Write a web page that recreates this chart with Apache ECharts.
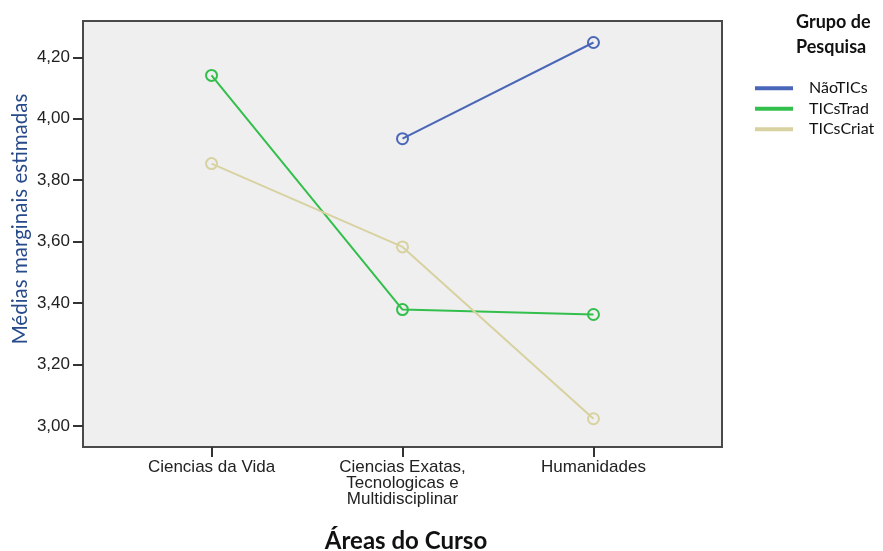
<!DOCTYPE html>
<html>
<head>
<meta charset="utf-8">
<script src="https://cdn.jsdelivr.net/npm/echarts@6/dist/echarts.min.js"></script>
<style>
  html, body { margin: 0; padding: 0; background: #fff; }
  #chart { width: 883px; height: 551px; }
</style>
</head>
<body>
<div id="chart"></div>
<script>
// areas (x categories)
const categories = ['Ciencias da Vida', 'Ciencias Exatas,\nTecnologicas e\nMultidisciplinar', 'Humanidades']
const yTicks = [3.0, 3.2, 3.4, 3.6, 3.8, 4.0, 4.2]

// estimated marginal means per group (null = no value)
const naoTICs = [null, 3.935, 4.248]
const ticsTrad = [4.141, 3.379, 3.363]
const ticsCriat = [3.854, 3.583, 3.024]

const groups = [
  { name: 'NãoTICs', values: naoTICs, color: '#4a66b8' },
  { name: 'TICsTrad', values: ticsTrad, color: '#33bf4c' },
  { name: 'TICsCriat', values: ticsCriat, color: '#d8d2a0' }
]

const chart = echarts.init(document.getElementById('chart'))

const toPoints = vals => vals.map((v, i) => (v == null ? null : [i, v])).filter(p => p)

chart.setOption({
  animation: false,
  textStyle: { fontFamily: 'Liberation Sans' },
  grid: {
    left: 83, right: 161, top: 21, bottom: 104,
    show: true,
    backgroundColor: '#efefef',
    borderColor: '#4a4a4a',
    borderWidth: 2
  },
  legend: {
    orient: 'vertical',
    left: 750,
    top: 73,
    itemWidth: 36,
    itemHeight: 2,
    itemGap: 0,
    icon: 'rect',
    textStyle: { fontFamily: 'Lato', fontSize: 16, color: '#111', lineHeight: 12.5, padding: [0, 0, 8, 12] },
    data: groups.map(g => ({ name: g.name, itemStyle: { color: g.color } }))
  },
  xAxis: {
    type: 'value',
    min: -0.673,
    max: 2.673,
    axisLine: { show: false, onZero: false },
    splitLine: { show: false },
    axisTick: { show: true, length: 10, customValues: [0, 1, 2], lineStyle: { color: '#333', width: 2 } },
    axisLabel: {
      customValues: [0, 1, 2],
      formatter: v => categories[Math.round(v)],
      fontSize: 17,
      lineHeight: 16,
      color: '#222',
      margin: 12
    }
  },
  yAxis: {
    type: 'value',
    min: 2.932,
    max: 4.318,
    axisLine: { show: false, onZero: false },
    splitLine: { show: false },
    axisTick: { show: true, length: 10, customValues: yTicks, lineStyle: { color: '#333', width: 2 } },
    axisLabel: {
      customValues: yTicks,
      formatter: v => v.toFixed(2).replace('.', ','),
      fontSize: 17,
      color: '#222',
      margin: 13
    }
  },
  graphic: [
    {
      type: 'text',
      x: 20, y: 219,
      rotation: Math.PI / 2,
      style: {
        text: 'Médias marginais estimadas',
        fontFamily: 'Lato', fontSize: 20.5, fill: '#264a8a',
        textAlign: 'center', textVerticalAlign: 'middle'
      }
    },
    {
      type: 'text',
      x: 406, y: 541,
      style: {
        text: 'Áreas do Curso',
        fontFamily: 'Lato', fontSize: 24, fontWeight: 'bold', fill: '#111',
        textAlign: 'center', textVerticalAlign: 'middle'
      }
    },
    {
      type: 'text',
      x: 796, y: 10,
      style: {
        text: 'Grupo de\nPesquisa',
        fontFamily: 'Lato', fontSize: 18, fontWeight: 'bold', fill: '#111',
        lineHeight: 25
      }
    }
  ],
  series: groups.map(g => ({
    name: g.name,
    type: 'line',
    data: toPoints(g.values),
    symbol: 'circle',
    symbolSize: 11,
    lineStyle: { width: 2, color: g.color },
    itemStyle: { color: 'transparent', borderColor: g.color, borderWidth: 2 }
  }))
})
</script>
</body>
</html>
